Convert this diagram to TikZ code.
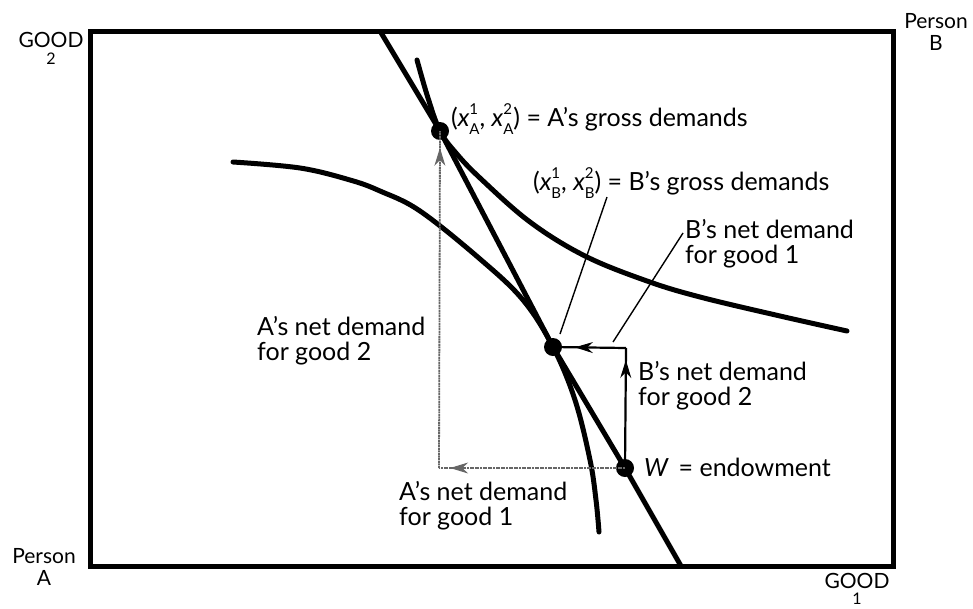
\documentclass[tikz,border=0pt]{standalone}
\usepackage{fontspec}
\setmainfont{Lato}
\usetikzlibrary{arrows.meta,decorations.markings}
\newcommand{\xsb}[2]{{\itshape x}\rlap{\raisebox{0.5em}{\fontsize{15}{15}\selectfont #2}}\raisebox{-0.3em}{\fontsize{15}{15}\selectfont #1}}
\tikzset{
  lbl/.style={font=\fontsize{25}{25}\selectfont, inner sep=0pt, align=left},
  corner/.style={font=\fontsize{21}{22}\selectfont, inner sep=0pt, align=center},
  thick curve/.style={line width=5pt, line cap=round, line join=round},
  dot/.style={circle, fill=black, inner sep=0pt, minimum size=18pt},
  leader/.style={line width=1.4pt},
  midarrow/.style={postaction={decorate},decoration={markings,mark=at position #1 with {\arrow[line width=1pt]{Stealth[length=18pt,width=11pt]}}}},
  barrow/.style={line width=2.2pt},
  aarrow/.style={line width=1.8pt, draw=black!60, dash pattern=on 2pt off 0.6pt},
}
\begin{document}
\begin{tikzpicture}[x=1pt,y=-1pt]
\useasboundingbox (0,0) rectangle (973,608);
% box
\draw[line width=5pt] (90,31) rectangle (893,566);
% points
\node[dot] (XA) at (440,131) {};
\node[dot] (XB) at (553,347) {};
\node[dot] (W) at (625,468) {};
\coordinate (BLtop) at (380,31);
\coordinate (BLbot) at (681,566);
\coordinate (Bc) at (626,348);
\coordinate (Ac) at (439,468);
% budget line
\draw[thick curve, line cap=butt] (BLtop) -- (XA.center) -- (XB.center) -- (W.center) -- (BLbot);
% A's indifference curve
\draw[thick curve] plot[smooth, tension=0.6] coordinates {(417,60) (428,98) (440,131) (456,153) (480,178) (530,222) (585,256) (647,281) (700,297) (780,316) (847,331)};
% B's indifference curve
\draw[thick curve] plot[smooth, tension=0.6] coordinates {(233,162) (300,168) (350,180) (380,191) (420,211) (480,259) (523,300) (553,347) (575,400) (590,460) (596,500) (599,532)};
% B's net demand arrows
\draw[barrow, midarrow=0.9] (W.center) -- (Bc);
\draw[barrow, midarrow=0.7] (Bc) -- (XB.center);
% A's net demand arrows
\draw[aarrow, midarrow=0.94] (W.center) -- (Ac);
\draw[aarrow, midarrow=0.95] (Ac) -- (XA.center);
% labels
\node[lbl, anchor=west] (lXA) at (451,119) {(\xsb{A}{1}, \xsb{A}{2}) = A's gross demands};
\node[lbl, anchor=west] (lXB) at (533,183) {(\xsb{B}{1}, \xsb{B}{2}) = B's gross demands};
\node[lbl, anchor=west] (lBn1) at (685,244) {B's net demand\\for good 1};
\node[lbl, anchor=west] (lAn2) at (257,341) {A's net demand\\for good 2};
\node[lbl, anchor=west] (lBn2) at (638,386) {B's net demand\\for good 2};
\node[lbl, anchor=west] (lW) at (644,467) {{\itshape W}\, = endowment};
\node[lbl, anchor=west] (lAn1) at (399,506) {A's net demand\\for good 1};
% leaders
\coordinate (lXBend) at (560,334);
\coordinate (lBn1end) at (613,342);
\draw[leader] (607,197) -- (lXBend);
\draw[leader] (683,233) -- (lBn1end);
% corner labels
\node[corner] (g2) at (51,48) {GOOD\\[-5pt]{\fontsize{16}{16}\selectfont 2}};
\node[corner] (pB) at (936,32) {Person\\B};
\node[corner] (pA) at (44,567) {Person\\A};
\node[corner] (g1) at (857,589) {GOOD\\[-6pt]{\fontsize{16}{16}\selectfont 1}};
\end{tikzpicture}
\end{document}
